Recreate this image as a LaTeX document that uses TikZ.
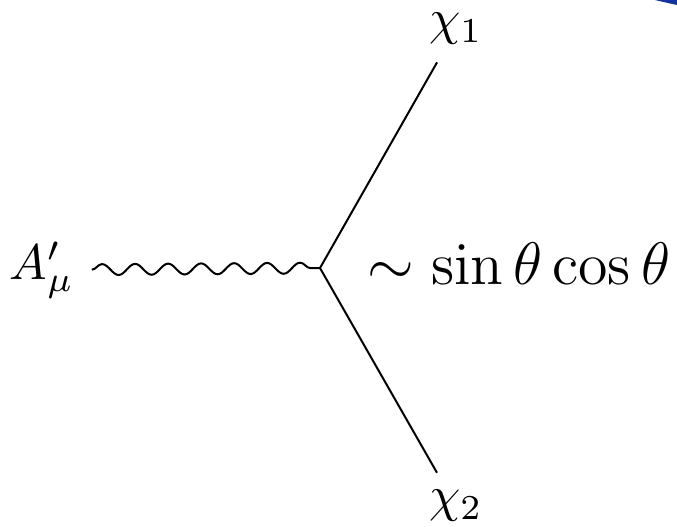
\documentclass[tikz,border=0pt]{standalone}
\usepackage{amsmath, amssymb}
\usepackage{xcolor}
\usetikzlibrary{decorations.pathmorphing}
\definecolor{cornerblue}{RGB}{20,50,160}
\begin{document}
\begin{tikzpicture}[x=0.2pt,y=-0.2pt,
    photon/.style={decorate,decoration={snake,segment length=6.6pt,amplitude=1.1pt}}]
      \useasboundingbox (0,0) rectangle (677,526);
      \fill [cornerblue] (655,0) -- (677,0) -- (677,5) .. controls (668,3) .. (655,0);
      \coordinate (v) at (320,268);
      \node (Ap) at (42,270) {$A'_\mu$};
      \node (chi1) at (456,29) {$\chi_1$};
      \node (chi2) at (456,506) {$\chi_2$};
      \node (cpl) at (519,264) {\large $\sim\sin\theta\cos\theta$};
      \draw [photon] (Ap) -- (v);
      \draw (v) -- (chi1);
      \draw (v) -- (chi2);
    \end{tikzpicture}
\end{document}
